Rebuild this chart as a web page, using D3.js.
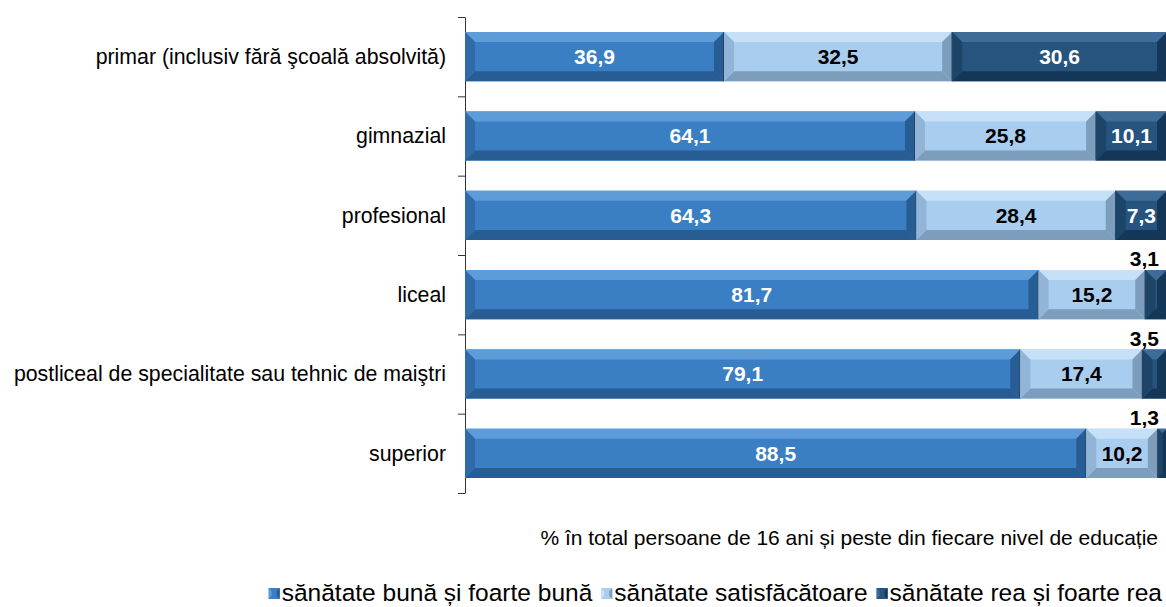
<!DOCTYPE html>
<html lang="ro">
<head>
    <meta charset="UTF-8">
    <title>Starea de sănătate pe nivel de educație</title>
    <script src="https://cdn.jsdelivr.net/npm/d3@7"></script>
    <style>
        body { margin: 0; background: #fff; }
        text { font-family: "Liberation Sans", Arial, sans-serif; }
    </style>
</head>
<body>
<script>
    const categories = [
        'primar (inclusiv fără şcoală absolvită)',
        'gimnazial',
        'profesional',
        'liceal',
        'postliceal de specialitate sau tehnic de maiştri',
        'superior'
    ]
    const seriesNames = ['sănătate bună și foarte bună', 'sănătate satisfăcătoare', 'sănătate rea și foarte rea']
    const good = [36.9, 64.1, 64.3, 81.7, 79.1, 88.5]
    const fair = [32.5, 25.8, 28.4, 15.2, 17.4, 10.2]
    const bad = [30.6, 10.1, 7.3, 3.1, 3.5, 1.3]
    const note = '% în total persoane de 16 ani și peste din fiecare nivel de educație'

    const [width, height] = [1166, 607]
    // base / top / bottom / side colours, one per series
    const palette = [
        {base: '#3a7ec3', top: '#5d9bd9', bottom: '#285d93', side: '#2f6ba8', label: '#fff'},
        {base: '#a9cdef', top: '#c6e0f7', bottom: '#7d9dbd', side: '#92b4d6', label: '#000'},
        {base: '#26547f', top: '#3e6c99', bottom: '#153757', side: '#1d4568', label: '#fff'}
    ]

    const data = categories.map((c, i) => ({cat: c, good: good[i], fair: fair[i], bad: bad[i]}))
    const keys = ['good', 'fair', 'bad']
    const stacked = d3.stack().keys(keys)(data)

    const x = d3.scaleLinear().domain([0, 100]).range([465, 1167])
    const y = d3.scaleBand().domain(categories).range([17, 493])
        .paddingInner(0.38).paddingOuter(0.19)

    const svg = d3.select('body').append('svg')
        .attr('width', width).attr('height', height)

    // axis, ticks sit between the categories
    const idx = d3.scaleLinear().domain([0, categories.length]).range([17, 493])
    svg.append('g')
        .attr('transform', 'translate(465,0)')
        .call(d3.axisLeft(idx).tickValues(d3.range(categories.length + 1)).tickFormat('').tickSize(7).tickSizeOuter(0))
        .call(g => g.selectAll('line, path').attr('stroke', '#333'))

    const bevel = (g, x0, y0, w, h, c) => {
        const b = Math.min(10, w / 2)
        g.append('rect').attr('x', x0).attr('y', y0).attr('width', w).attr('height', h).attr('fill', c.base)
        const poly = (pts, fill) => g.append('polygon').attr('points', pts.map(p => p.join(',')).join(' ')).attr('fill', fill)
        poly([[x0, y0], [x0 + w, y0], [x0 + w - b, y0 + b], [x0 + b, y0 + b]], c.top)
        poly([[x0, y0 + h], [x0 + w, y0 + h], [x0 + w - b, y0 + h - b], [x0 + b, y0 + h - b]], c.bottom)
        poly([[x0, y0], [x0 + b, y0 + b], [x0 + b, y0 + h - b], [x0, y0 + h]], c.side)
        poly([[x0 + w, y0], [x0 + w - b, y0 + b], [x0 + w - b, y0 + h - b], [x0 + w, y0 + h]], c.bottom)
        g.append('line').attr('x1', x0 + w).attr('x2', x0 + w).attr('y1', y0).attr('y2', y0 + h)
            .attr('stroke', '#1a2f45').attr('stroke-width', 1.2)
    }

    stacked.forEach((s, si) => {
        const c = palette[si]
        s.forEach(d => {
            const x0 = x(d[0]), w = x(d[1]) - x(d[0])
            const y0 = y(d.data.cat), h = y.bandwidth()
            const g = svg.append('g')
            bevel(g, x0, y0, w, h, c)
            const v = d[1] - d[0]
            const small = v < 5
            g.append('text')
                .attr('x', small ? 1159 : x0 + w / 2)
                .attr('y', small ? y0 - 11 : y0 + h / 2)
                .attr('dy', '0.35em')
                .attr('text-anchor', small ? 'end' : 'middle')
                .attr('font-size', 21).attr('font-weight', 'bold')
                .attr('fill', small ? '#000' : c.label)
                .text(d3.format('.1f')(v).replace('.', ','))
        })
    })

    // category labels
    svg.append('g').selectAll('text').data(categories).enter()
        .append('text')
        .attr('x', 446)
        .attr('y', d => y(d) + y.bandwidth() / 2)
        .attr('dy', '0.35em')
        .attr('text-anchor', 'end')
        .attr('font-size', 21.3)
        .attr('fill', '#000')
        .text(d => d)

    svg.append('text')
        .attr('x', 1158).attr('y', 545)
        .attr('text-anchor', 'end')
        .attr('font-size', 21)
        .text(note)

    // legend, laid out right to left
    const legend = svg.append('g')
    let right = 1162
    for (let i = seriesNames.length - 1; i >= 0; i--) {
        const t = legend.append('text')
            .attr('x', right).attr('y', 601)
            .attr('text-anchor', 'end')
            .attr('font-size', 24.5)
            .text(seriesNames[i])
        const tw = t.node().getComputedTextLength()
        const c = palette[i]
        const mx = right - tw - 13, my = 588
        const g = legend.append('g')
        g.append('rect').attr('x', mx).attr('y', my).attr('width', 11).attr('height', 11).attr('fill', c.base)
        g.append('polygon').attr('points', `${mx},${my} ${mx + 3},${my + 3} ${mx + 3},${my + 8} ${mx},${my + 11}`).attr('fill', c.top)
        g.append('polygon').attr('points', `${mx + 11},${my} ${mx + 8},${my + 3} ${mx + 8},${my + 8} ${mx + 11},${my + 11}`).attr('fill', c.bottom)
        right = mx - 9
    }
</script>
</body>
</html>
